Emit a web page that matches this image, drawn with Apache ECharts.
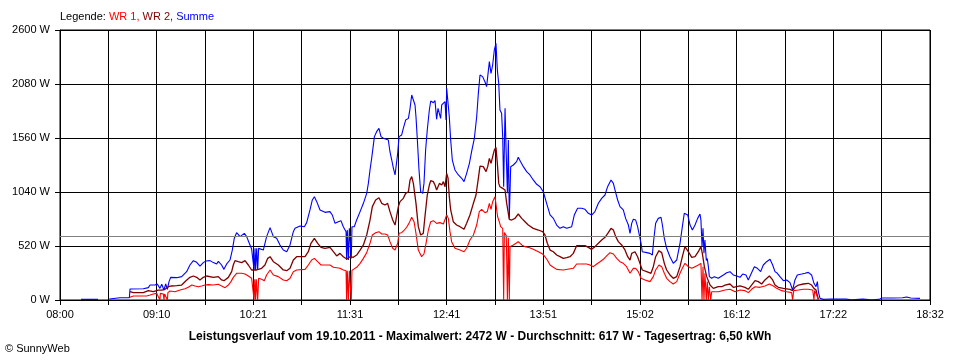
<!DOCTYPE html>
<html>
<head>
<meta charset="utf-8">
<script src="https://cdn.jsdelivr.net/npm/echarts@6/dist/echarts.min.js"></script>
<style>html,body{margin:0;padding:0;background:#fff}#c{width:960px;height:360px}</style>
</head>
<body>
<div id="c"></div>
<script>
// minutes after 08:00
const xLabels = ['08:00','09:10','10:21','11:31','12:41','13:51','15:02','16:12','17:22','18:32'];
const xMax = 632;
const yMax = 2600, yStep = 520;
const avgW = 617;
const titleText = 'Leistungsverlauf vom 19.10.2011 - Maximalwert: 2472 W - Durchschnitt: 617 W - Tagesertrag: 6,50 kWh';

const sumT = [15.3,27.6,28.0,35.8,43.6,50.4,50.85,60.5,64.2,65.4,69.0,70.7,72.6,73.9,75.5,76.8,78.0,79.2,80.4,84.8,88.4,89.6,92.0,94.4,96.9,99.3,101.7,104.1,106.1,109.0,111.4,113.8,115.0,117.4,119.1,121.1,123.5,125.2,126.6,128.3,130.8,132.0,133.9,135.6,137.5,139.2,140.5,141.0,141.7,142.1,142.9,143.6,144.3,145.3,147.7,148.4,150.1,152.6,155.0,157.4,159.8,162.2,164.7,167.1,169.5,170.7,174.4,177.5,179.2,181.6,183.3,184.8,186.5,188.9,192.5,196.1,197.8,199.8,202.2,204.1,205.8,207.8,208.2,208.7,209.5,210.2,211.6,212.1,213.8,215.5,218.0,220.4,222.8,224.0,225.2,226.4,228.4,230.0,231.7,233.2,234.9,238.5,239.7,241.0,242.2,243.4,244.6,245.3,246.3,248.2,249.4,251.1,253.1,254.3,255.5,256.7,257.9,258.6,259.6,260.8,262.0,263.5,264.4,265.6,266.8,268.3,269.3,271.2,272.4,273.6,274.6,275.6,276.5,277.3,278.5,279.7,280.4,280.9,281.9,282.8,283.8,285.0,286.9,289.4,291.8,293.5,295.4,297.4,299.0,301.0,302.7,303.9,305.1,307.0,308.7,309.9,310.7,311.9,313.1,314.3,315.5,316.7,317.7,318.7,319.6,320.8,321.6,322.3,323.3,324.0,325.0,325.7,326.4,327.4,329.3,330.5,331.7,332.9,334.6,336.6,339.0,341.4,343.8,346.3,348.7,351.1,353.5,356.0,358.4,360.8,363.2,365.6,368.1,371.7,373.6,376.0,378.9,381.4,383.8,386.2,388.6,391.1,393.5,395.9,397.8,400.3,402.0,403.2,405.1,406.8,409.2,410.9,412.9,414.1,415.3,416.5,418.2,419.6,420.6,422.1,423.0,426.2,428.6,430.3,431.3,432.7,434.6,436.6,437.6,439.0,440.7,443.1,445.5,448.0,450.4,452.1,453.5,454.5,456.0,457.7,459.4,461.3,463.2,464.9,465.6,466.4,467.1,467.8,468.5,469.5,470.2,471.0,471.7,473.4,475.3,478.2,481.9,484.3,486.7,489.1,491.6,494.0,495.9,498.3,500.0,502.4,504.4,506.6,509.0,510.9,513.3,515.8,517.7,519.4,521.1,523.0,525.5,527.9,530.3,532.2,533.9,535.6,538.8,541.2,543.6,546.0,547.7,549.2,550.2,550.9,552.1,554.5,560,571,575,583,590,595,597,605,612,615,618,624.7];
const sumW = [6,6,null,10,22,22,106,109,119,145,145,154,112,151,96,154,103,177,218,215,225,241,273,337,379,363,327,360,376,379,360,347,372,337,295,347,385,482,594,648,610,616,642,610,546,491,488,289,498,289,497,289,497,481,481,465,610,697,610,594,530,481,465,530,658,690,713,706,745,867,963,995,947,867,844,851,819,738,754,764,706,658,385,674,385,690,400,706,706,770,851,931,1027,1123,1252,1364,1573,1621,1653,1573,1557,1541,1428,1348,1268,1204,1220,1412,1573,1589,1653,1733,1749,1846,1974,1926,1878,1765,1541,1252,1043,1027,1123,1444,1637,1830,1916,1900,1920,1740,1846,1830,1749,1878,1862,1910,1733,2038,2029,1765,1541,1348,1252,1204,1172,1140,1220,1316,1428,1557,1765,1990,2167,2151,2102,2054,2151,2295,2183,2263,2407,2472,2215,2086,1830,1798,1573,1091,1846,1477,1027,1541,786,1284,1300,1284,1332,1374,1332,1284,1236,1204,1156,1114,1091,1043,931,819,786,722,690,706,690,706,818,883,883,873,835,818,851,931,979,1011,1091,1156,1123,1059,963,899,867,786,722,642,738,777,770,706,642,546,465,456,449,433,578,738,786,796,722,594,498,417,353,385,546,706,835,851,819,722,674,722,786,828,770,514,690,450,578,380,400,321,225,209,225,209,241,263,273,241,231,218,250,241,193,263,321,305,273,337,369,392,337,273,257,225,186,193,167,96,193,241,250,257,266,241,161,128,177,80,16,6,10,8,3,8,3,6,19,19,22,29,19,16];

const wr2T = [50.85,53.3,60.5,64.2,67.8,71.4,73.9,76.3,78.7,81.1,84.8,88.4,91.5,94.4,96.9,99.3,101.7,104.1,106.5,111.4,115.0,117.4,119.1,122.3,124.7,125.9,127.1,129.5,132.0,134.4,136.8,139.2,142.9,146.5,148.9,150.9,152.6,155.0,158.6,162.2,164.7,167.1,169.5,171.9,178.0,180.4,182.3,184.8,187.2,189.6,192.5,196.1,198.6,201.0,203.4,205.8,208.3,210.7,213.1,215.5,218.0,220.4,222.8,225.2,226.9,229.3,231.7,233.7,236.1,238.0,239.7,241.7,243.4,244.6,245.8,247.0,249.4,251.1,253.1,254.3,255.5,256.7,257.9,258.6,260.3,262.0,263.9,265.1,266.8,268.3,269.3,271.2,272.4,273.6,275.6,277.3,278.5,279.7,280.9,281.9,282.8,283.8,285.7,288.1,290.6,293.5,295.4,297.8,300.3,302.2,303.9,305.1,307.5,309.5,310.7,311.9,313.1,314.3,315.5,316.7,317.7,318.7,319.6,321.6,323.3,324.5,326.4,328.1,330.5,332.9,335.4,337.8,340.2,343.8,347.5,350.6,352.3,354.0,356.0,358.4,360.8,363.2,365.6,368.1,370.5,372.9,375.3,381.4,383.8,386.2,388.6,391.1,393.5,395.9,398.3,400.3,402.0,403.7,405.6,408.0,410.4,412.4,414.1,415.3,417.7,419.6,421.3,423.0,426.2,429.3,431.0,432.7,435.1,437.1,439.0,440.7,443.1,445.5,448.0,450.4,452.1,454.0,456.4,458.9,461.3,463.7,465.6,466.6,468.1,469.8,472.2,474.6,478.2,480.7,483.1,484.3,486.7,489.1,491.6,494.0,497.6,500.0,502.4,504.9,507.3,509.7,512.1,515.3,517.7,519.4,521.8,525.5,530.3,532.2,533.9,536.4,540.0,543.6,546.0,547.7,549.2,550.9];
const wr2W = [80,71,71,90,80,96,96,103,128,135,138,144,186,218,231,218,193,218,231,218,225,193,186,218,273,337,379,369,360,379,337,289,289,305,337,401,417,369,337,289,282,305,385,417,417,465,546,594,546,507,498,507,465,424,449,417,395,417,411,433,481,530,626,770,899,963,985,931,915,931,851,770,722,738,899,947,979,1027,1043,1156,1188,1123,1140,931,706,626,642,802,1011,1107,1149,1140,1107,1059,1123,1107,1140,1091,1220,1172,995,867,754,722,706,681,738,819,931,1011,1172,1290,1284,1236,1284,1364,1316,1380,1444,1470,1316,1123,1091,1075,1059,931,777,770,786,828,786,754,722,690,674,658,626,546,481,465,433,417,401,408,417,449,523,523,507,488,514,546,578,604,648,690,674,610,562,530,482,417,385,449,465,417,353,289,273,257,321,417,475,456,353,289,241,209,225,321,417,514,465,411,417,465,514,449,321,225,144,112,128,128,144,161,154,122,128,135,122,103,144,186,177,154,193,231,193,144,122,112,103,90,122,144,154,161,144,112,96,6];

const wr1T = [50.85,53.3,63.0,65.4,67.8,70.2,72.6,72.9,75.1,75.5,76.0,78.0,78.4,79.9,83.5,87.2,90.8,93.2,95.7,98.1,100.5,102.9,105.3,107.8,111.4,115.0,117.4,119.9,122.3,124.2,125.9,128.3,132.0,134.4,136.8,139.2,141.0,141.5,142.1,142.6,143.6,144.3,146.5,148.4,150.1,152.6,155.0,158.6,162.2,164.7,167.1,169.5,171.9,178.0,180.4,182.8,184.8,187.2,189.6,196.1,198.6,203.4,205.8,207.8,208.2,208.7,209.5,210.2,211.6,212.1,213.1,215.5,218.0,220.4,222.8,225.2,226.9,229.3,231.7,233.7,236.1,238.0,239.7,241.7,243.4,245.3,246.3,248.2,250.1,251.8,253.5,255.5,257.2,258.6,260.3,262.7,264.4,265.9,267.6,269.3,271.2,273.6,276.0,278.5,279.7,280.9,282.1,283.3,284.5,286.9,290.6,293.5,295.4,297.8,300.3,302.7,304.6,306.3,308.7,310.4,311.9,313.1,314.3,316.0,317.2,317.9,319.1,320.1,321.6,322.3,322.8,324.2,325.0,325.7,326.4,326.9,329.3,331.3,332.9,335.4,337.8,340.2,343.8,347.5,350.6,352.3,354.0,356.0,358.4,360.8,365.6,372.9,375.3,382.6,385.0,387.4,389.9,392.3,394.7,397.1,399.5,402.0,404.4,406.8,409.2,411.6,414.1,416.5,418.2,420.1,422.1,425.0,428.6,431.0,432.7,435.1,437.1,439.0,440.7,443.1,445.5,448.0,450.4,452.1,454.0,456.4,458.9,461.3,463.7,465.6,466.4,467.1,467.8,468.5,469.5,470.2,471.0,471.7,472.7,473.4,478.2,483.1,484.3,486.7,490.4,494.0,497.6,500.0,502.4,504.9,508.5,512.1,515.3,518.2,520.6,524.2,527.9,531.5,532.2,533.0,536.4,540.0,543.6,546.8,547.7,548.2,549.7,550.9];
const wr1W = [26,39,39,48,58,64,0,64,58,0,58,0,71,87,80,96,109,122,144,135,128,135,144,148,144,151,135,119,144,177,218,257,257,250,231,209,0,199,0,199,0,209,199,186,241,289,241,225,193,186,209,273,289,295,337,385,401,369,337,337,315,305,289,282,0,282,0,282,0,285,289,315,353,401,456,546,626,648,658,636,636,626,562,498,481,546,642,648,674,700,738,796,754,642,481,417,443,546,674,754,764,738,745,732,745,819,786,658,562,498,481,465,498,578,626,722,851,873,841,851,931,873,947,995,979,802,754,706,690,0,650,620,0,600,0,514,530,546,562,530,514,507,488,465,443,417,385,337,315,295,289,305,347,347,337,321,347,369,392,424,456,443,401,369,353,321,257,305,305,273,209,193,177,225,289,337,321,257,209,177,154,177,257,305,353,321,305,321,337,353,0,321,0,257,0,177,0,128,0,80,80,96,112,103,80,96,90,71,103,128,122,135,154,135,112,90,80,71,0,90,96,103,103,96,0,90,48,0];

const pairs = (t, w) => t.map((x, i) => [x, w[i]]);
const step = xMax / 18;
const font = 'Liberation Sans, Arial, sans-serif';

const chart = echarts.init(document.getElementById('c'), null, {renderer: 'canvas'});
const lineBase = {type: 'line', showSymbol: false, symbol: 'none', animation: false, silent: true, connectNulls: false};
chart.setOption({
  animation: false,
  backgroundColor: '#fff',
  grid: {left: 60, right: 30, top: 30, bottom: 60, show: true, borderColor: '#000', borderWidth: 1, backgroundColor: 'transparent'},
  xAxis: {
    type: 'value', min: 0, max: xMax, interval: step,
    axisLine: {lineStyle: {color: '#000', width: 1}},
    axisTick: {show: true, length: 5, lineStyle: {color: '#000'}},
    splitLine: {show: true, lineStyle: {color: '#000', width: 1}},
    axisLabel: {
      color: '#000', fontFamily: font, fontSize: 11, margin: 9,
      formatter: function (v) {
        const k = Math.round(v / step);
        return k % 2 === 0 ? (xLabels[k / 2] || '') : '';
      }
    }
  },
  yAxis: {
    type: 'value', min: 0, max: yMax, interval: yStep,
    axisLine: {show: true, lineStyle: {color: '#000', width: 1}},
    axisTick: {show: true, length: 5, lineStyle: {color: '#000'}},
    splitLine: {show: true, lineStyle: {color: '#000', width: 1}},
    axisLabel: {color: '#000', fontFamily: font, fontSize: 11, margin: 10,
      formatter: function (v) { return String(Math.round(v)) + ' W'; }}
  },
  series: [
    Object.assign({}, lineBase, {
      name: 'Summe', data: pairs(sumT, sumW),
      lineStyle: {color: '#0000FF', width: 1.1}, itemStyle: {color: '#0000FF'},
      markLine: {silent: true, symbol: 'none', animation: false, label: {show: false},
        lineStyle: {color: '#808080', type: 'solid', width: 1}, data: [{yAxis: avgW}]}
    }),
    Object.assign({}, lineBase, {
      name: 'WR 2', data: pairs(wr2T, wr2W),
      lineStyle: {color: '#800000', width: 1.3}, itemStyle: {color: '#800000'}
    }),
    Object.assign({}, lineBase, {
      name: 'WR 1', data: pairs(wr1T, wr1W),
      lineStyle: {color: '#FF0000', width: 1.1}, itemStyle: {color: '#FF0000'}
    })
  ],
  graphic: [
    {type: 'text', left: 60, top: 11, style: {
      text: '{k|Legende: }{a|WR 1, }{b|WR 2, }{c|Summe}',
      rich: {
        k: {fill: '#000', fontFamily: font, fontSize: 11},
        a: {fill: '#FF0000', fontFamily: font, fontSize: 11},
        b: {fill: '#800000', fontFamily: font, fontSize: 11},
        c: {fill: '#0000FF', fontFamily: font, fontSize: 11}
      }
    }},
    {type: 'text', x: 480, y: 337, style: {
      text: titleText, fill: '#000', fontFamily: font, fontSize: 12, fontWeight: 'bold',
      align: 'center', verticalAlign: 'middle'
    }},
    {type: 'text', x: 5, y: 349, style: {
      text: '\u00A9 SunnyWeb', fill: '#000', fontFamily: font, fontSize: 11,
      align: 'left', verticalAlign: 'middle'
    }}
  ]
});
</script>
</body>
</html>
